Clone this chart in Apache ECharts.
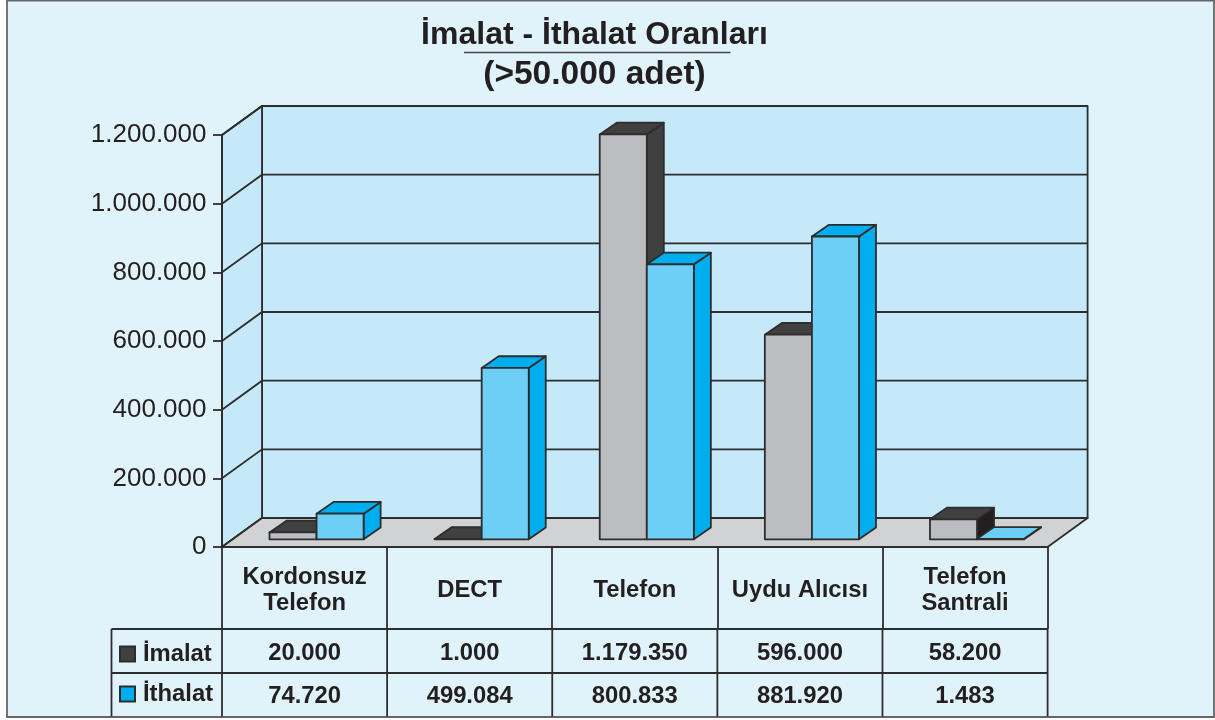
<!DOCTYPE html>
<html>
<head>
<meta charset="utf-8">
<style>
  html, body { margin: 0; padding: 0; background: #fff; }
  #chart { width: 1215px; height: 720px; }
</style>
<script src="https://cdn.jsdelivr.net/npm/echarts@6/dist/echarts.min.js"></script>
</head>
<body>
<div id="chart"></div>
<script>
const categories = ['Kordonsuz\nTelefon', 'DECT', 'Telefon', 'Uydu Alıcısı', 'Telefon\nSantrali'];
const imalat = [20000, 1000, 1179350, 596000, 58200];
const ithalat = [74720, 499084, 800833, 881920, 1483];
const yTicks = [0, 200000, 400000, 600000, 800000, 1000000, 1200000];

const FONT = '"Liberation Sans", Arial, sans-serif';
const INK = '#231f20';
const LINE = '#2d2d2d';
const LW = 1.8;

// plot area of the front plane, the walls go back from it
const gridLeft = 222, gridRight = 1047.6, gridTop = 135, gridBottom = 547;
const wallDx = 40, wallDy = -29;
// bars stand a little inside the floor
const barShiftX = 12, barShiftY = -7.7, barDx = 17, barDy = -11.7;
const barRatio = 0.285;

function dots(v) {
  return String(v).replace(/\B(?=(\d{3})+$)/g, '.');
}

function poly(points, fill, z2) {
  return {
    type: 'polygon',
    z2: z2 || 0,
    shape: { points: points },
    style: { fill: fill, stroke: LINE, lineWidth: LW, lineJoin: 'round' }
  };
}

function renderWalls(params, api) {
  const children = [];
  const low = api.coord([0, 0]);
  const high = api.coord([0, yTicks[yTicks.length - 1]]);
  const band = api.size([1, 0])[0];
  const x0 = low[0] - band / 2;
  const x1 = x0 + band * categories.length;
  children.push(poly([[x0 + wallDx, high[1] + wallDy], [x1 + wallDx, high[1] + wallDy], [x1 + wallDx, low[1] + wallDy], [x0 + wallDx, low[1] + wallDy]], '#c6e9fa'));
  children.push(poly([[x0, high[1]], [x0 + wallDx, high[1] + wallDy], [x0 + wallDx, low[1] + wallDy], [x0, low[1]]], '#c6e9fa'));
  yTicks.forEach(function (t) {
    const y = api.coord([0, t])[1];
    children.push({
      type: 'polyline',
      z2: 1,
      shape: { points: [[x0, y], [x0 + wallDx, y + wallDy], [x1 + wallDx, y + wallDy]] },
      style: { fill: null, stroke: LINE, lineWidth: LW }
    });
  });
  children.push(poly([[x0, low[1]], [x0 + wallDx, low[1] + wallDy], [x1 + wallDx, low[1] + wallDy], [x1, low[1]]], '#d1d2d4', 2));
  return { type: 'group', children: children };
}

// flatTop: top colour when the bar is too low to show a front, darkSides: side colour per category
function barRenderer(side, front, dark, flatTop, darkSides) {
  return function (params, api) {
    const cat = api.value(0);
    const base = api.coord([cat, 0]);
    const top = api.coord([cat, api.value(1)]);
    const w = api.size([1, 0])[0] * barRatio;
    const l = base[0] + barShiftX + side * w;
    const r = l + w;
    const b = base[1] + barShiftY;
    const t = top[1] + barShiftY;
    return {
      type: 'group',
      children: [
        poly([[r, t], [r + barDx, t + barDy], [r + barDx, b + barDy], [r, b]], darkSides[cat] || dark),
        poly([[l, t], [l + barDx, t + barDy], [r + barDx, t + barDy], [r, t]], b - t < 2 ? flatTop : dark),
        poly([[l, t], [r, t], [r, b], [l, b]], front)
      ]
    };
  };
}

function buildTable() {
  const band = (gridRight - gridLeft) / categories.length;
  const rowTop = 629, rowMid = 673, rowBottom = 716.5, headLeft = 111.5;
  const els = [];
  function line(x1, y1, x2, y2) {
    els.push({
      type: 'line',
      z: 5,
      shape: { x1: x1, y1: y1, x2: x2, y2: y2 },
      style: { stroke: LINE, lineWidth: LW }
    });
  }
  line(headLeft, rowTop, gridRight, rowTop);
  line(headLeft, rowMid, gridRight, rowMid);
  line(headLeft, rowTop, headLeft, rowBottom);
  for (let i = 0; i <= categories.length; i++) {
    line(gridLeft + band * i, rowTop, gridLeft + band * i, rowBottom);
  }
  [imalat, ithalat].forEach(function (row, r) {
    row.forEach(function (v, i) {
      els.push({
        type: 'text',
        z: 5,
        style: {
          text: dots(v),
          x: gridLeft + band * (i + 0.5),
          y: r === 0 ? 653.5 : 696.5,
          align: 'center',
          verticalAlign: 'middle',
          fill: INK,
          font: 'bold 23.8px ' + FONT
        }
      });
    });
  });
  return els;
}

const chart = echarts.init(document.getElementById('chart'), null, { renderer: 'canvas' });

chart.setOption({
  animation: false,
  title: [{
    text: 'İmalat - İthalat Oranları',
    left: 589.5,
    top: 14,
    textAlign: 'center',
    textStyle: { fontFamily: FONT, fontWeight: 'bold', fontSize: 32, color: INK }
  }, {
    text: '(>50.000 adet)',
    left: 589.5,
    top: 53,
    textAlign: 'center',
    textStyle: { fontFamily: FONT, fontWeight: 'bold', fontSize: 33.5, color: INK }
  }],
  legend: {
    orient: 'vertical',
    left: 119,
    top: 642,
    padding: 0,
    itemWidth: 15,
    itemHeight: 15,
    itemGap: 16,
    icon: 'rect',
    selectedMode: false,
    data: ['İmalat', 'İthalat'],
    textStyle: { fontFamily: FONT, fontWeight: 'bold', fontSize: 23.8, color: INK, padding: [0, 0, 0, 3] }
  },
  grid: {
    left: gridLeft,
    top: gridTop,
    width: gridRight - gridLeft,
    height: gridBottom - gridTop
  },
  xAxis: {
    type: 'category',
    data: categories,
    z: 4,
    axisLine: { lineStyle: { color: LINE, width: LW } },
    axisTick: { show: true, length: 82, lineStyle: { color: LINE, width: LW } },
    axisLabel: {
      interval: 0,
      margin: 43,
      verticalAlign: 'middle',
      lineHeight: 26,
      fontFamily: FONT,
      fontWeight: 'bold',
      fontSize: 23.8,
      color: INK
    }
  },
  yAxis: {
    type: 'value',
    min: 0,
    max: 1200000,
    interval: 200000,
    z: 4,
    splitLine: { show: false },
    axisLine: { show: true, lineStyle: { color: LINE, width: LW } },
    axisTick: { show: true, length: 9, lineStyle: { color: LINE, width: LW } },
    axisLabel: {
      margin: 15.5,
      padding: [7, 0, 0, 0],
      fontFamily: FONT,
      fontSize: 26,
      color: INK,
      formatter: dots
    }
  },
  graphic: [{
    type: 'rect',
    z: -10,
    shape: { x: 7, y: 0.5, width: 1207, height: 716.5 },
    style: { fill: '#e0f3fb', stroke: '#666666', lineWidth: 1.8 }
  }, {
    type: 'line',
    z: 5,
    shape: { x1: 464, y1: 52.5, x2: 730.5, y2: 52.5 },
    style: { stroke: '#444444', lineWidth: 1.6 }
  }].concat(buildTable()),
  series: [{
    type: 'custom',
    z: 1,
    clip: false,
    silent: true,
    renderItem: renderWalls,
    encode: { x: 0, y: 1 },
    data: [[0, 0]]
  }, {
    name: 'İmalat',
    type: 'custom',
    z: 3,
    clip: false,
    itemStyle: { color: '#404040', borderColor: LINE, borderWidth: LW },
    renderItem: barRenderer(-1, '#bcbdc0', '#404040', '#404040', { 4: '#231f20' }),
    encode: { x: 0, y: 1 },
    data: imalat.map(function (v, i) { return [i, v]; })
  }, {
    name: 'İthalat',
    type: 'custom',
    z: 3,
    clip: false,
    itemStyle: { color: '#00aeef', borderColor: LINE, borderWidth: LW },
    renderItem: barRenderer(0, '#6dcff6', '#00aeef', '#6dcff6', {}),
    encode: { x: 0, y: 1 },
    data: ithalat.map(function (v, i) { return [i, v]; })
  }]
});
</script>
</body>
</html>
